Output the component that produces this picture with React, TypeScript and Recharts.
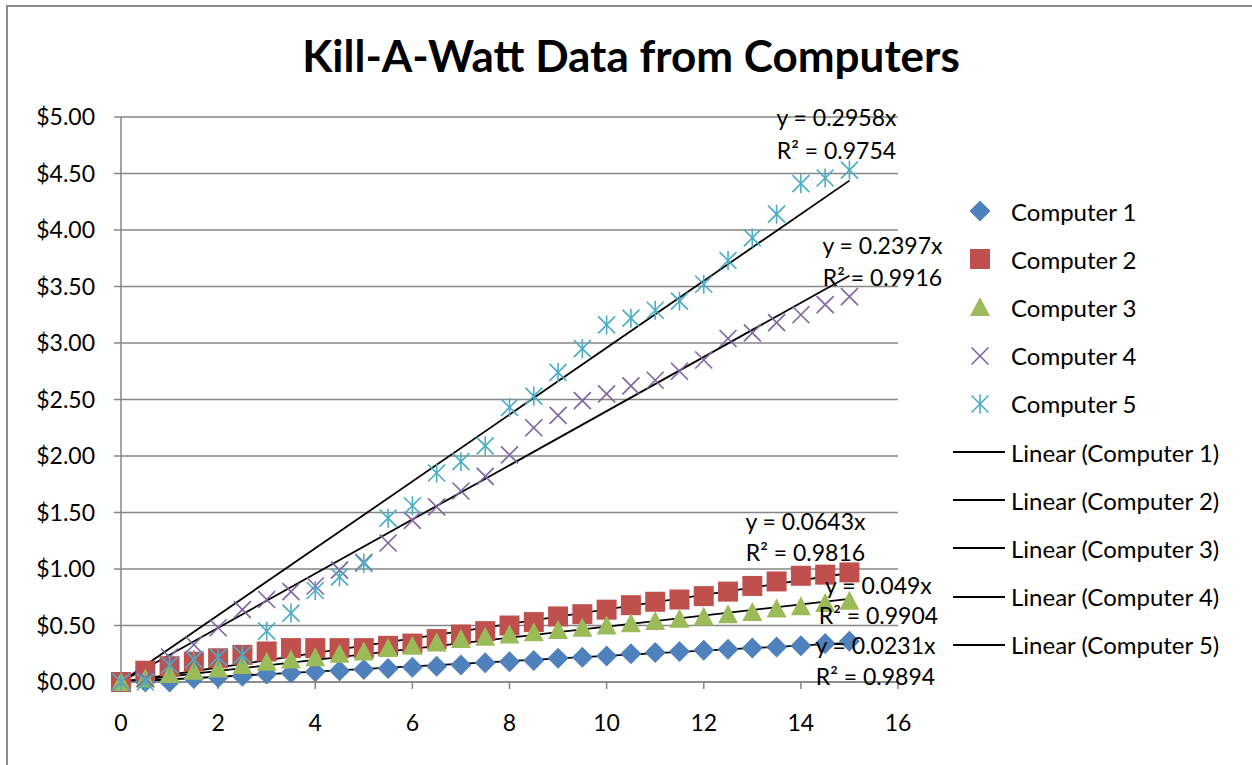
import React from "react";
import {
  ComposedChart,
  Scatter,
  Line,
  XAxis,
  YAxis,
  CartesianGrid,
} from "recharts";

// hours on the meter
const hours = [
  0, 0.5, 1, 1.5, 2, 2.5, 3, 3.5, 4, 4.5, 5, 5.5, 6, 6.5, 7, 7.5, 8, 8.5, 9,
  9.5, 10, 10.5, 11, 11.5, 12, 12.5, 13, 13.5, 14, 14.5, 15,
];

// cost in dollars
const computer1 = [
  0, 0, 0, 0.03, 0.04, 0.05, 0.07, 0.08, 0.09, 0.1, 0.11, 0.12, 0.13, 0.14,
  0.15, 0.17, 0.18, 0.19, 0.21, 0.22, 0.23, 0.25, 0.26, 0.27, 0.28, 0.29, 0.3,
  0.31, 0.32, 0.34, 0.36,
];
const computer2 = [
  0, 0.1, 0.14, 0.18, 0.21, 0.24, 0.27, 0.3, 0.3, 0.3, 0.3, 0.32, 0.34, 0.38,
  0.42, 0.45, 0.5, 0.53, 0.58, 0.6, 0.64, 0.68, 0.71, 0.73, 0.76, 0.8, 0.85,
  0.89, 0.94, 0.95, 0.97,
];
const computer3 = [
  0, 0.03, 0.07, 0.1, 0.12, 0.15, 0.18, 0.2, 0.22, 0.25, 0.27, 0.3, 0.32, 0.35,
  0.38, 0.4, 0.42, 0.44, 0.46, 0.48, 0.5, 0.52, 0.54, 0.56, 0.58, 0.6, 0.62,
  0.65, 0.67, 0.7, 0.72,
];
const computer4 = [
  0, 0.03, 0.22, 0.33, 0.48, 0.64, 0.73, 0.8, 0.85, 0.99, 1.06, 1.23, 1.43,
  1.55, 1.69, 1.82, 2.01, 2.25, 2.36, 2.49, 2.55, 2.62, 2.67, 2.75, 2.85, 3.04,
  3.09, 3.18, 3.25, 3.34, 3.41,
];
const computer5 = [
  0, 0, 0.15, 0.2, 0.22, 0.24, 0.45, 0.61, 0.81, 0.93, 1.05, 1.45, 1.56, 1.85,
  1.95, 2.09, 2.43, 2.53, 2.74, 2.95, 3.16, 3.22, 3.29, 3.37, 3.52, 3.73, 3.93,
  4.14, 4.41, 4.46, 4.53,
];

const seriesNames = [
  "Computer 1",
  "Computer 2",
  "Computer 3",
  "Computer 4",
  "Computer 5",
];
const slopes = [0.0231, 0.0643, 0.049, 0.2397, 0.2958];
const rSquared = ["0.9894", "0.9816", "0.9904", "0.9916", "0.9754"];
const slopeLabels = ["0.0231", "0.0643", "0.049", "0.2397", "0.2958"];

const xTicks = [0, 2, 4, 6, 8, 10, 12, 14, 16];
const yTicks = [0, 0.5, 1, 1.5, 2, 2.5, 3, 3.5, 4, 4.5, 5];

const colors = ["#4F81BD", "#C0504D", "#9BBB59", "#8064A2", "#4BACC6"];
const FONT = "Lato, 'Open Sans', sans-serif";

const toPoints = (vals: number[]) => vals.map((y, i) => ({ x: hours[i], y }));
const allSeries = [computer1, computer2, computer3, computer4, computer5].map(
  toPoints
);
const trendlines = slopes.map((m) => [
  { x: hours[0], y: 0 },
  { x: hours[hours.length - 1], y: m * hours[hours.length - 1] },
]);

// where Excel dropped each equation box relative to the line end
const labelOffsets = [
  { dx: 26, dy1: 2, dy2: 33 },
  { dx: -44, dy1: -52, dy2: -21 },
  { dx: 29, dy1: -14, dy2: 16 },
  { dx: 33, dy1: -31, dy2: 1 },
  { dx: -13, dy1: -64, dy2: -31 },
];

function Marker({ kind, cx, cy }: { kind: number; cx: number; cy: number }) {
  const c = colors[kind];
  if (kind === 0) {
    const h = 10.5;
    return (
      <polygon
        points={`${cx},${cy - h} ${cx + h},${cy} ${cx},${cy + h} ${cx - h},${cy}`}
        fill={c}
      />
    );
  }
  if (kind === 1) {
    return <rect x={cx - 10} y={cy - 10} width={20} height={20} fill={c} />;
  }
  if (kind === 2) {
    return (
      <polygon
        points={`${cx},${cy - 10} ${cx + 10},${cy + 9} ${cx - 10},${cy + 9}`}
        fill={c}
      />
    );
  }
  const h = 8.5;
  return (
    <g stroke={c} strokeWidth={1.6}>
      <line x1={cx - h} y1={cy - h} x2={cx + h} y2={cy + h} />
      <line x1={cx - h} y1={cy + h} x2={cx + h} y2={cy - h} />
      {kind === 4 && <line x1={cx} y1={cy - h - 1} x2={cx} y2={cy + h + 1} />}
    </g>
  );
}

const trendLabel = (i: number) => (props: any) => {
  if (props.index !== 1) return null;
  const o = labelOffsets[i];
  return (
    <g key={`tl-${i}`} fontFamily={FONT} fontSize={23} fill="#000">
      <text
        x={props.x + o.dx}
        y={props.y + o.dy1}
        textAnchor="middle"
        dominantBaseline="central"
      >
        {`y = ${slopeLabels[i]}x`}
      </text>
      <text
        x={props.x + o.dx}
        y={props.y + o.dy2}
        textAnchor="middle"
        dominantBaseline="central"
      >
        {`R² = ${rSquared[i]}`}
      </text>
    </g>
  );
};

function ChartLegend() {
  const rows = [
    ...seriesNames.map((n, i) => ({ name: n, kind: i, line: false })),
    ...seriesNames.map((n, i) => ({
      name: `Linear (${n})`,
      kind: i,
      line: true,
    })),
  ];
  return (
    <div
      style={{
        position: "absolute",
        left: 950,
        top: 187,
        fontFamily: FONT,
        fontSize: 24,
      }}
    >
      {rows.map((r) => (
        <div
          key={r.name}
          style={{ height: 48.2, display: "flex", alignItems: "center" }}
        >
          <svg width={60} height={48}>
            {r.line ? (
              <line x1={3} x2={55} y1={24} y2={24} stroke="#000" strokeWidth={2} />
            ) : (
              <Marker kind={r.kind} cx={30} cy={24} />
            )}
          </svg>
          <span style={{ marginLeft: 1 }}>{r.name}</span>
        </div>
      ))}
    </div>
  );
}

export default function App() {
  return (
    <div
      style={{
        position: "absolute",
        left: 0,
        top: 0,
        width: 1252,
        height: 765,
        overflow: "hidden",
        background: "#fff",
      }}
    >
      <div
        style={{
          position: "absolute",
          left: 6,
          top: 5,
          width: 1300,
          height: 800,
          borderLeft: "2px solid #8c8c8c",
          borderTop: "2px solid #8c8c8c",
        }}
      />
      <div
        style={{
          position: "absolute",
          left: 0,
          width: 1262,
          top: 29,
          textAlign: "center",
          fontFamily: FONT,
          fontWeight: 700,
          fontSize: 44,
        }}
      >
        Kill-A-Watt Data from Computers
      </div>
      <div style={{ position: "absolute", left: 0, top: 0 }}>
        <ComposedChart
          width={1252}
          height={765}
          margin={{ top: 117, right: 354, bottom: 33, left: 21 }}
        >
          <CartesianGrid
            vertical={false}
            stroke="#868686"
            strokeWidth={1.5}
          />
          <XAxis
            type="number"
            dataKey="x"
            domain={[0, 16]}
            ticks={xTicks}
            height={50}
            stroke="#868686"
            strokeWidth={1.5}
            tickSize={7}
            tickMargin={26}
            tick={{ fill: "#000", fontSize: 23, fontFamily: FONT }}
          />
          <YAxis
            type="number"
            dataKey="y"
            domain={[0, 5]}
            ticks={yTicks}
            width={100}
            stroke="#868686"
            strokeWidth={1.5}
            tickSize={7}
            tickMargin={19}
            tickFormatter={(v: number) => `$${v.toFixed(2)}`}
            tick={{ fill: "#000", fontSize: 23, fontFamily: FONT }}
          />
          {allSeries.map((pts, i) => (
            <Scatter
              key={seriesNames[i]}
              name={seriesNames[i]}
              data={pts}
              dataKey="y"
              fill={colors[i]}
              isAnimationActive={false}
              shape={(p: any) => <Marker kind={i} cx={p.cx} cy={p.cy} />}
            />
          ))}
          {trendlines.map((pts, i) => (
            <Line
              key={`trend-${i}`}
              name={`Linear (${seriesNames[i]})`}
              data={pts}
              dataKey="y"
              type="linear"
              stroke="#000"
              strokeWidth={1.8}
              dot={false}
              activeDot={false}
              isAnimationActive={false}
              label={trendLabel(i)}
            />
          ))}
        </ComposedChart>
      </div>
      <ChartLegend />
    </div>
  );
}
